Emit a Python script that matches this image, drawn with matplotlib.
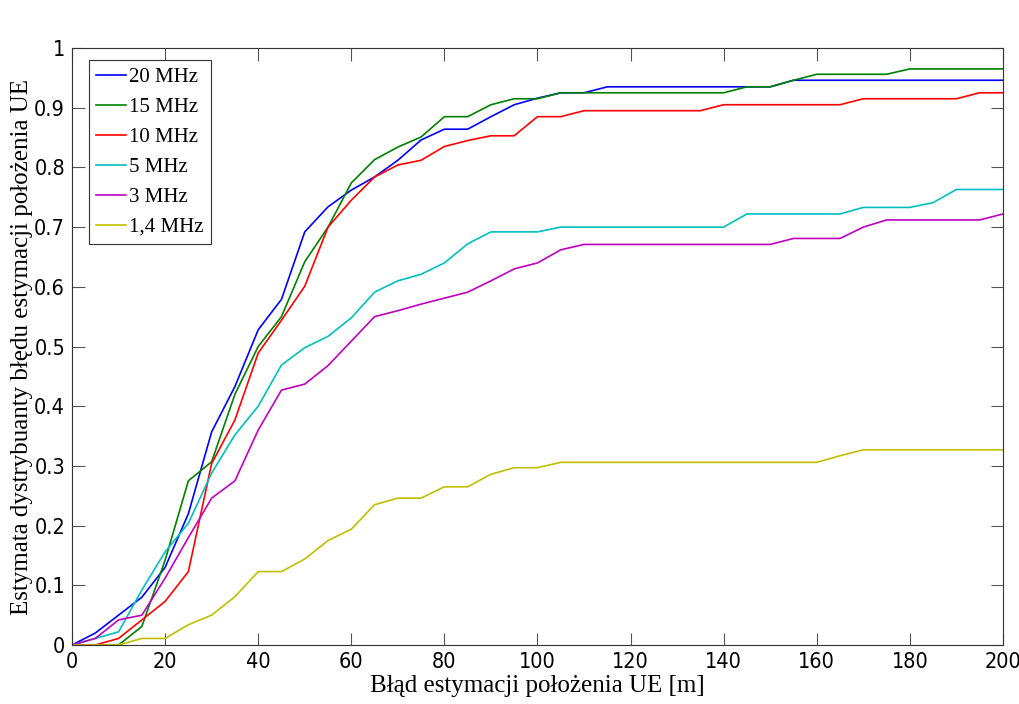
import numpy as np
import matplotlib.pyplot as plt

x = list(range(0, 205, 5))

mhz20 = [0, 0.02, 0.05, 0.08, 0.13, 0.22, 0.357, 0.433, 0.528, 0.579, 0.692,
         0.734, 0.762, 0.784, 0.812, 0.846, 0.864, 0.864, 0.885, 0.905, 0.916,
         0.925, 0.925, 0.935, 0.935, 0.935, 0.935, 0.935, 0.935, 0.935, 0.935,
         0.946, 0.946, 0.946, 0.946, 0.946, 0.946, 0.946, 0.946, 0.946, 0.946]
mhz15 = [0, 0, 0, 0.031, 0.142, 0.275, 0.307, 0.42, 0.50, 0.55, 0.642,
         0.70, 0.774, 0.813, 0.834, 0.851, 0.885, 0.885, 0.905, 0.915, 0.915,
         0.925, 0.925, 0.925, 0.925, 0.925, 0.925, 0.925, 0.925, 0.935, 0.935,
         0.946, 0.956, 0.956, 0.956, 0.956, 0.965, 0.965, 0.965, 0.965, 0.965]
mhz10 = [0, 0, 0.011, 0.042, 0.073, 0.123, 0.304, 0.377, 0.489, 0.544, 0.601,
         0.70, 0.745, 0.784, 0.804, 0.812, 0.835, 0.845, 0.853, 0.853, 0.885,
         0.885, 0.895, 0.895, 0.895, 0.895, 0.895, 0.895, 0.905, 0.905, 0.905,
         0.905, 0.905, 0.905, 0.915, 0.915, 0.915, 0.915, 0.915, 0.925, 0.925]
mhz5 = [0, 0.011, 0.022, 0.092, 0.156, 0.204, 0.288, 0.352, 0.40, 0.469, 0.498,
        0.517, 0.548, 0.591, 0.61, 0.621, 0.64, 0.672, 0.692, 0.692, 0.692,
        0.70, 0.70, 0.70, 0.70, 0.70, 0.70, 0.70, 0.70, 0.722, 0.722,
        0.722, 0.722, 0.722, 0.733, 0.733, 0.733, 0.741, 0.763, 0.763, 0.763]
mhz3 = [0, 0.011, 0.042, 0.05, 0.112, 0.18, 0.246, 0.275, 0.36, 0.427, 0.437,
        0.468, 0.509, 0.55, 0.56, 0.571, 0.581, 0.591, 0.61, 0.63, 0.64,
        0.662, 0.671, 0.671, 0.671, 0.671, 0.671, 0.671, 0.671, 0.671, 0.671,
        0.681, 0.681, 0.681, 0.70, 0.712, 0.712, 0.712, 0.712, 0.712, 0.722]
mhz14 = [0, 0, 0, 0.011, 0.011, 0.034, 0.05, 0.081, 0.123, 0.123, 0.144,
         0.175, 0.194, 0.235, 0.246, 0.246, 0.265, 0.265, 0.286, 0.297, 0.297,
         0.306, 0.306, 0.306, 0.306, 0.306, 0.306, 0.306, 0.306, 0.306, 0.306,
         0.306, 0.306, 0.317, 0.327, 0.327, 0.327, 0.327, 0.327, 0.327, 0.327]

labels = ['20 MHz', '15 MHz', '10 MHz', '5 MHz', '3 MHz', '1,4 MHz']
colors = ['#0000ff', '#008000', '#ff0000', '#00bfbf', '#bf00bf', '#bfbf00']
series = [mhz20, mhz15, mhz10, mhz5, mhz3, mhz14]

fig = plt.figure(figsize=(10.2, 7.04), dpi=100)
ax = fig.add_axes([0.0706, 0.0838, 0.9127, 0.848])

for s, c, l in zip(series, colors, labels):
    ax.plot(x, s, color=c, lw=1.2, label=l)

ax.set_xlim(0, 200)
ax.set_ylim(0, 1)
ax.set_xticks(range(0, 201, 20))
ax.set_yticks(np.arange(0, 1.01, 0.1))
ax.set_yticklabels(['0', '0.1', '0.2', '0.3', '0.4', '0.5', '0.6', '0.7', '0.8', '0.9', '1'])
ax.tick_params(direction='in', length=9, width=0.8, color='#555555', top=True, right=True,
               labelsize=15.5, pad=5)
for lab in ax.get_xticklabels() + ax.get_yticklabels():
    lab.set_family(['DejaVu Sans'])
    lab.set_stretch('condensed')
for sp in ax.spines.values():
    sp.set_linewidth(0.8)
    sp.set_color('#333333')

ax.set_xlabel('Błąd estymacji położenia UE [m]', family='Liberation Serif', fontsize=18, labelpad=2)
ax.set_ylabel('Estymata dystrybuanty błędu estymacji położenia UE', family='Liberation Serif',
              fontsize=18, labelpad=1)

leg = ax.legend(loc='upper left', bbox_to_anchor=(0.018, 0.98), prop={'family': 'Liberation Serif', 'size': 15},
                fancybox=False, framealpha=1, edgecolor='#333333', handlelength=1.45,
                handletextpad=0.15, labelspacing=0.5, borderpad=0.35, borderaxespad=0)
leg.get_frame().set_linewidth(0.8)

fig.savefig('out.png', dpi=100)
